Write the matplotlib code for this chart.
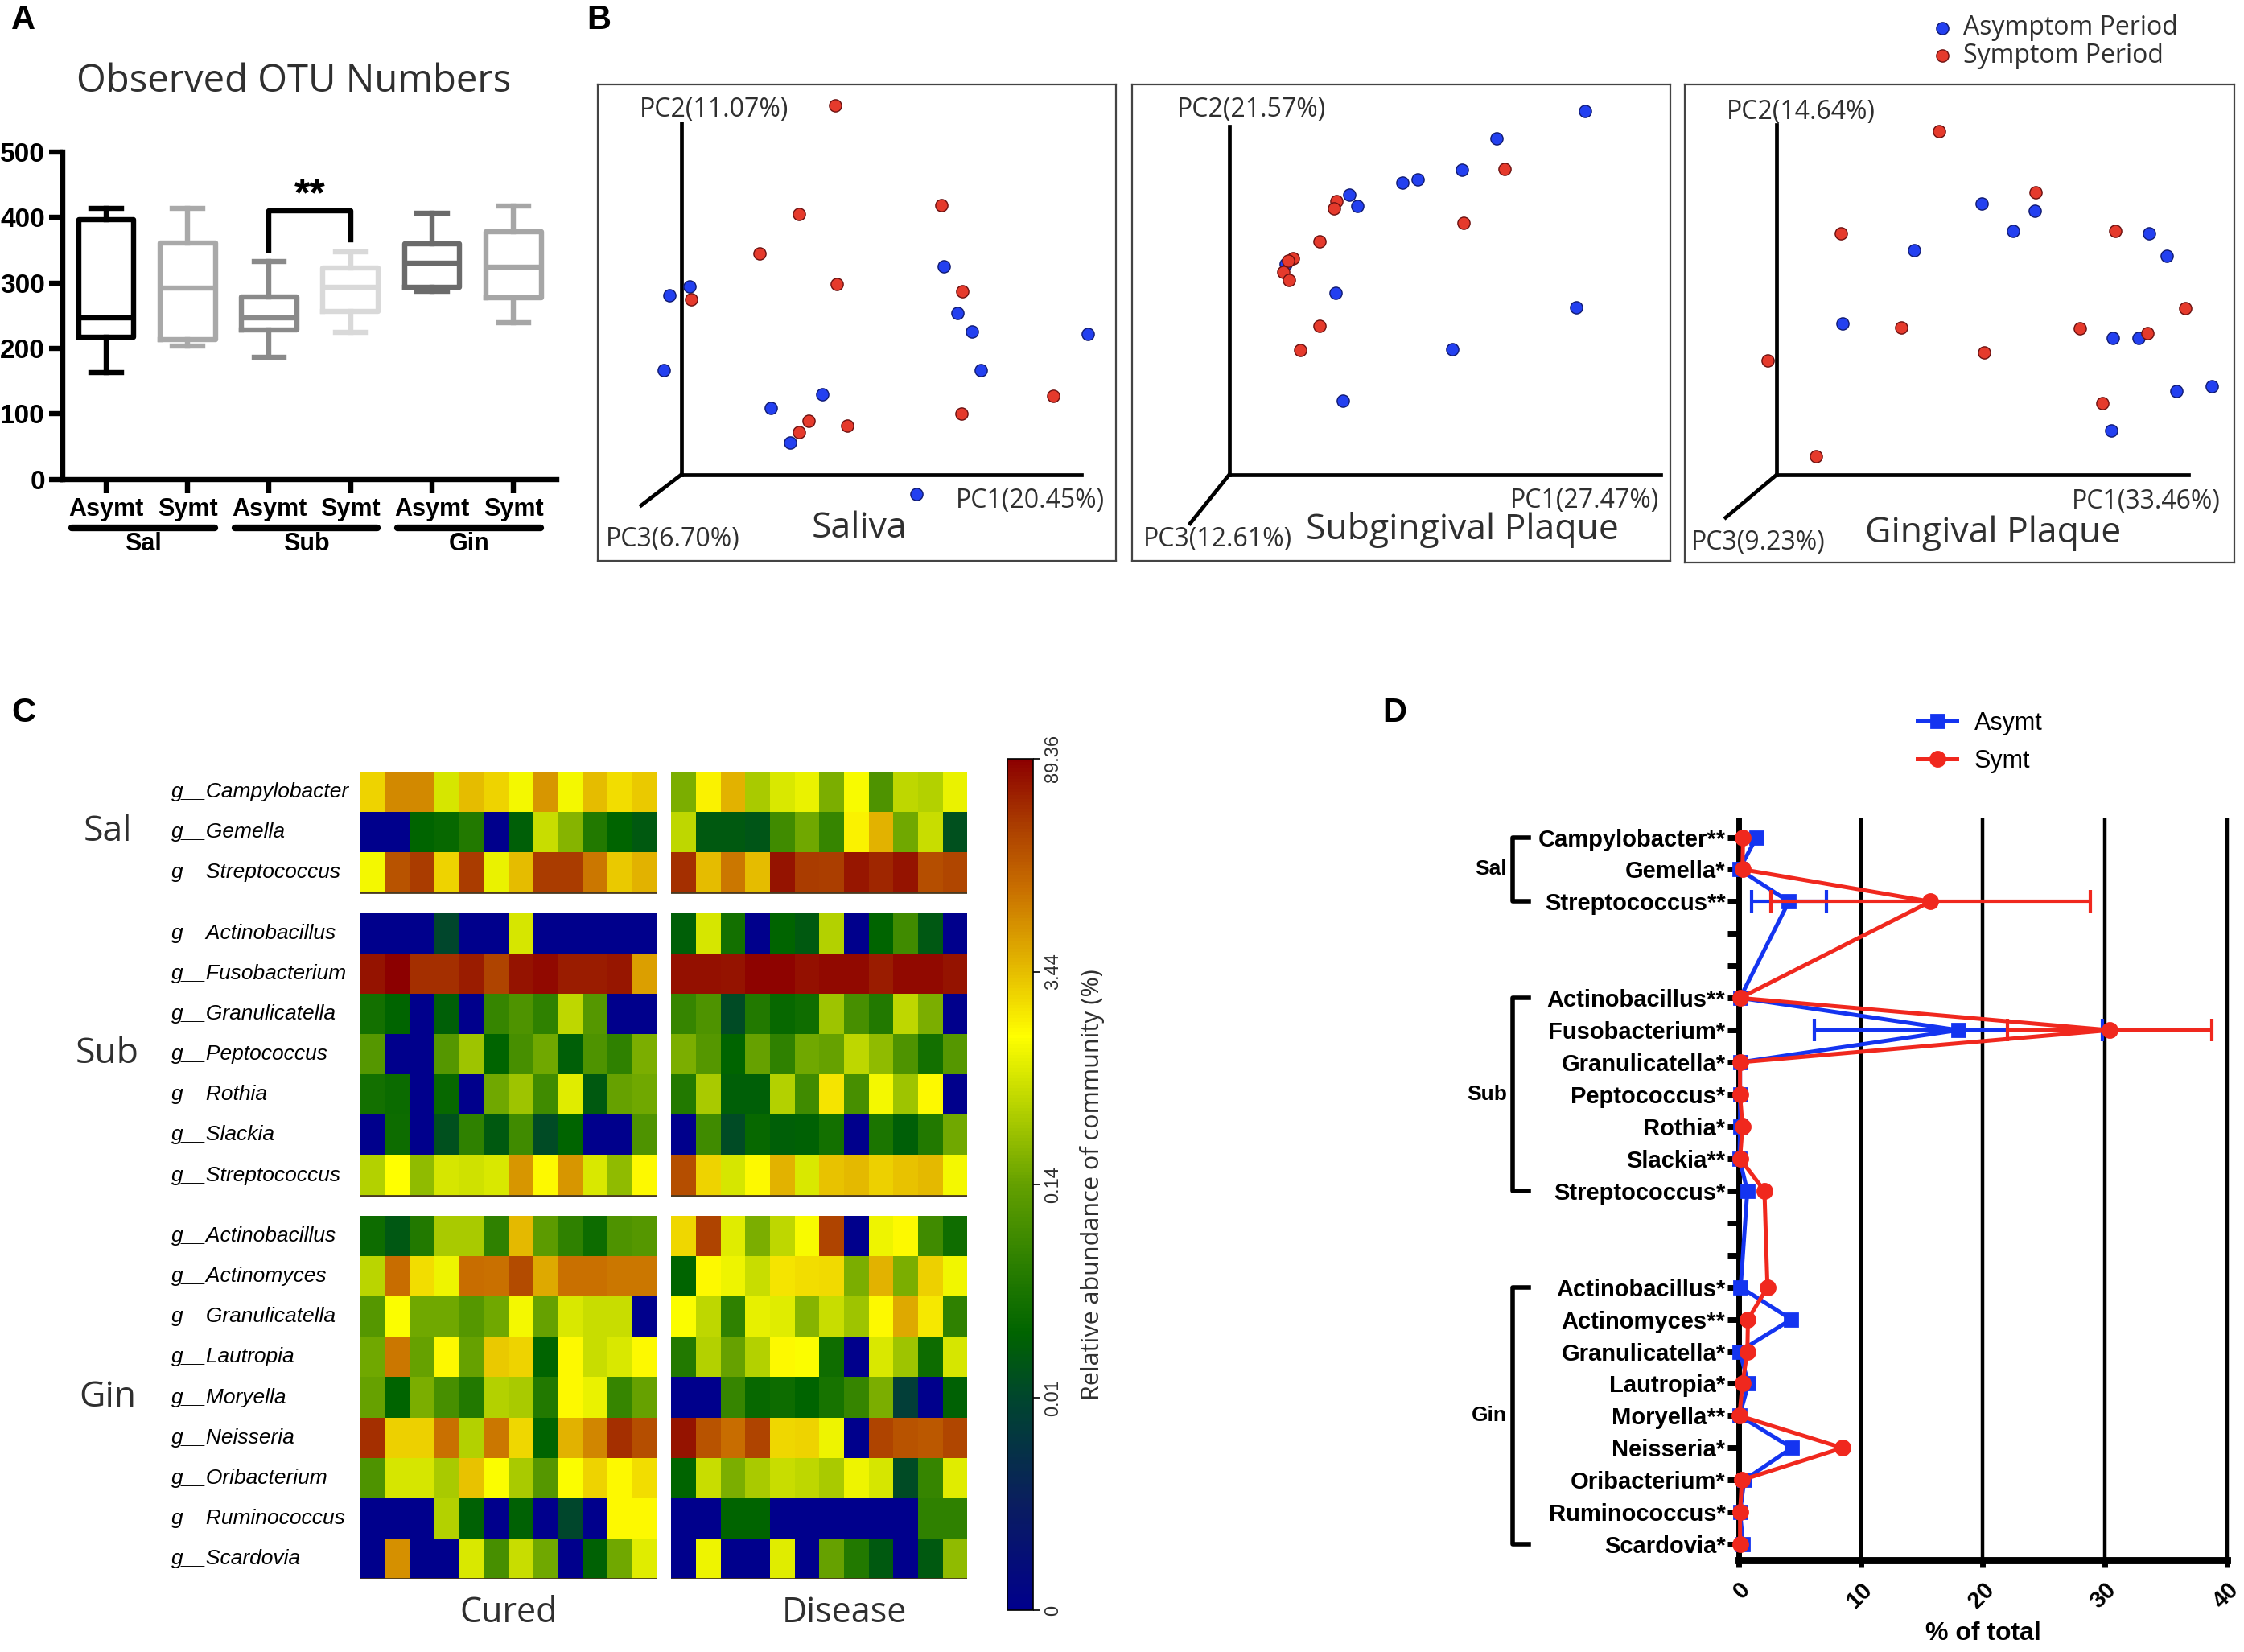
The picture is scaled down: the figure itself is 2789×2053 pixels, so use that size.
import numpy as np
import matplotlib
matplotlib.use("Agg")
import matplotlib.pyplot as plt
from matplotlib.colors import LinearSegmentedColormap
from matplotlib.transforms import blended_transform_factory

plt.rcParams['font.family'] = ['Liberation Sans', 'DejaVu Sans']

# reference layout is measured on a 1568 x 1154 grid
W, H = 1568.0, 1154.0
SOFT = 'Open Sans'
GREY_TXT = '#2f2f2f'

# === Panel A: observed OTU numbers (box stats) ===
otu_groups = ["Sal", "Sub", "Gin"]
otu_labels = ["Asymt", "Symt", "Asymt", "Symt", "Asymt", "Symt"]
otu_whislo = [163, 204, 186, 225, 287, 239]
otu_q1 = [217, 214, 228, 257, 293, 277]
otu_med = [247, 292, 247, 293, 330, 324]
otu_q3 = [396, 361, 279, 323, 359, 378]
otu_whishi = [413, 414, 332, 347, 406, 417]
otu_colors = ["#000000", "#a9a9a9", "#8a8a8a", "#d9d9d9", "#6b6b6b", "#a6a6a6"]

# === Panel B: PCoA points (fraction of each panel box) ===
sal_asym_x = [0.177, 0.138, 0.126, 0.667, 0.693, 0.722, 0.945, 0.739, 0.433, 0.333, 0.370, 0.615]
sal_asym_y = [0.576, 0.557, 0.401, 0.618, 0.520, 0.482, 0.477, 0.401, 0.350, 0.321, 0.249, 0.141]
sal_sym_x = [0.458, 0.662, 0.388, 0.311, 0.460, 0.702, 0.180, 0.406, 0.388, 0.480, 0.701, 0.878]
sal_sym_y = [0.956, 0.746, 0.728, 0.645, 0.582, 0.566, 0.549, 0.294, 0.270, 0.284, 0.310, 0.347]

sub_asym_x = [0.842, 0.677, 0.613, 0.531, 0.503, 0.404, 0.418, 0.286, 0.378, 0.825, 0.595, 0.392]
sub_asym_y = [0.945, 0.886, 0.821, 0.800, 0.794, 0.769, 0.745, 0.623, 0.562, 0.533, 0.445, 0.337]
sub_sym_x = [0.693, 0.616, 0.380, 0.376, 0.349, 0.299, 0.290, 0.281, 0.292, 0.349, 0.312]
sub_sym_y = [0.822, 0.710, 0.756, 0.740, 0.670, 0.635, 0.631, 0.606, 0.590, 0.493, 0.443]

gin_asym_x = [0.541, 0.638, 0.598, 0.418, 0.846, 0.877, 0.287, 0.779, 0.826, 0.895, 0.960, 0.777]
gin_asym_y = [0.751, 0.736, 0.694, 0.653, 0.689, 0.641, 0.500, 0.470, 0.470, 0.359, 0.369, 0.277]
gin_sym_x = [0.463, 0.639, 0.285, 0.784, 0.911, 0.394, 0.719, 0.842, 0.546, 0.152, 0.761, 0.239]
gin_sym_y = [0.902, 0.775, 0.688, 0.693, 0.532, 0.492, 0.490, 0.480, 0.440, 0.423, 0.333, 0.222]

# === Panel C: heatmap (position on colour scale, 0..4) ===
sal_genera = ["Campylobacter", "Gemella", "Streptococcus"]
sub_genera = ["Actinobacillus", "Fusobacterium", "Granulicatella", "Peptococcus",
              "Rothia", "Slackia", "Streptococcus"]
gin_genera = ["Actinobacillus", "Actinomyces", "Granulicatella", "Lautropia", "Moryella",
              "Neisseria", "Oribacterium", "Ruminococcus", "Scardovia"]
cbar_labels = ["0", "0.01", "0.14", "3.44", "89.36"]

cured_sal = [
    [2.9, 3.25, 3.25, 2.5, 3.0, 2.9, 2.65, 3.2, 2.65, 3.0, 2.85, 2.95],
    [0, 0, 1.3, 1.35, 1.55, 0, 1.25, 2.45, 2.15, 1.55, 1.3, 1.2],
    [2.65, 3.55, 3.7, 2.9, 3.7, 2.6, 3.0, 3.7, 3.7, 3.35, 2.95, 3.05],
]
disease_sal = [
    [2.1, 2.75, 3.05, 2.3, 2.52, 2.6, 2.1, 2.67, 1.85, 2.4, 2.35, 2.6],
    [2.4, 1.2, 1.2, 1.15, 1.75, 2.05, 1.7, 2.75, 3.05, 2.05, 2.45, 1.1],
    [3.75, 3.0, 3.35, 3.0, 3.9, 3.7, 3.68, 3.88, 3.8, 3.9, 3.58, 3.63],
]
cured_sub = [
    [0, 0, 0, 1.0, 0, 0, 2.5, 0, 0, 0, 0, 0],
    [3.9, 4.0, 3.75, 3.75, 3.85, 3.65, 3.9, 3.95, 3.85, 3.85, 3.88, 3.15],
    [1.45, 1.3, 0, 1.25, 0, 1.7, 1.85, 1.65, 2.4, 1.9, 0, 0],
    [1.9, 0, 0, 1.9, 2.25, 1.3, 1.8, 2.05, 1.25, 1.85, 1.65, 2.1],
    [1.45, 1.38, 0, 1.35, 0, 2.05, 2.25, 1.75, 2.55, 1.2, 2.0, 2.05],
    [0, 1.4, 0, 1.1, 1.65, 1.2, 1.75, 1.05, 1.3, 0, 0, 1.85],
    [2.35, 2.7, 2.2, 2.5, 2.48, 2.52, 3.2, 2.72, 3.2, 2.52, 2.2, 2.72],
]
disease_sub = [
    [1.25, 2.5, 1.45, 0, 1.3, 1.2, 2.35, 0, 1.3, 1.75, 1.18, 0],
    [3.92, 3.92, 3.9, 3.97, 3.97, 3.92, 3.95, 3.95, 3.85, 3.95, 3.95, 3.9],
    [1.7, 1.85, 1.05, 1.55, 1.35, 1.42, 2.25, 1.8, 1.55, 2.4, 2.1, 0],
    [2.1, 1.9, 1.3, 2.0, 1.65, 2.05, 2.0, 2.4, 2.2, 1.85, 1.45, 1.9],
    [1.55, 2.3, 1.25, 1.25, 2.35, 1.75, 2.82, 1.8, 2.65, 2.25, 2.72, 0],
    [0, 1.75, 1.05, 1.35, 1.25, 1.27, 1.45, 0, 1.5, 1.25, 1.55, 2.05],
    [3.58, 2.9, 2.5, 2.73, 3.05, 2.52, 2.97, 3.02, 2.92, 2.97, 3.02, 2.65],
]
cured_gin = [
    [1.4, 1.18, 1.55, 2.3, 2.3, 1.65, 3.02, 1.95, 1.65, 1.4, 1.85, 1.9],
    [2.38, 3.4, 2.85, 2.62, 3.4, 3.38, 3.6, 3.1, 3.38, 3.38, 3.35, 3.35],
    [1.9, 2.68, 2.05, 2.05, 1.9, 2.05, 2.65, 2.0, 2.52, 2.45, 2.45, 0],
    [2.05, 3.35, 2.0, 2.73, 2.0, 2.95, 2.9, 1.3, 2.72, 2.45, 2.52, 2.72],
    [2.0, 1.3, 2.1, 1.8, 1.55, 2.35, 2.3, 1.55, 2.72, 2.6, 1.7, 2.0],
    [3.75, 2.92, 2.92, 3.38, 2.35, 3.35, 2.88, 1.3, 3.05, 3.28, 3.75, 3.58],
    [1.85, 2.5, 2.5, 2.3, 2.97, 2.68, 2.3, 1.9, 2.68, 2.9, 2.73, 2.85],
    [0, 0, 0, 2.35, 1.27, 0, 1.27, 0, 1.0, 0, 2.72, 2.72],
    [0, 3.22, 0, 0, 2.52, 1.8, 2.45, 2.05, 0, 1.27, 2.05, 2.55],
]
disease_gin = [
    [2.88, 3.65, 2.55, 2.1, 2.4, 2.67, 3.65, 0, 2.62, 2.72, 1.75, 1.42],
    [1.3, 2.73, 2.62, 2.45, 2.82, 2.85, 2.87, 2.1, 3.05, 2.1, 2.92, 2.64],
    [2.68, 2.4, 1.65, 2.58, 2.55, 2.15, 2.45, 2.25, 2.73, 3.1, 2.8, 1.65],
    [1.55, 2.35, 2.0, 2.35, 2.73, 2.68, 1.42, 0, 2.52, 2.25, 1.4, 2.5],
    [0, 0, 1.7, 1.35, 1.4, 1.3, 1.48, 1.7, 2.1, 0.9, 0, 1.27],
    [3.9, 3.55, 3.4, 3.65, 2.88, 2.9, 2.62, 0, 3.65, 3.55, 3.52, 3.63],
    [1.3, 2.45, 2.1, 2.3, 2.45, 2.4, 2.3, 2.62, 2.5, 1.05, 1.7, 2.55],
    [0, 0, 1.3, 1.3, 0, 0, 0, 0, 0, 0, 1.65, 1.65],
    [0, 2.62, 0, 0, 2.55, 0, 2.0, 1.55, 1.2, 0, 1.2, 2.2],
]

# === Panel D: % of total (empty strings are spacer rows) ===
d_labels = ["Campylobacter**", "Gemella*", "Streptococcus**", "", "",
            "Actinobacillus**", "Fusobacterium*", "Granulicatella*", "Peptococcus*",
            "Rothia*", "Slackia**", "Streptococcus*", "", "",
            "Actinobacillus*", "Actinomyces**", "Granulicatella*", "Lautropia*",
            "Moryella**", "Neisseria*", "Oribacterium*", "Ruminococcus*", "Scardovia*"]
nan = np.nan
asymt_pct = [1.45, 0.05, 4.1, nan, nan, 0.1, 18.0, 0.1, 0.1, 0.1, 0.05, 0.7, nan, nan,
             0.15, 4.3, 0.05, 0.8, 0.05, 4.35, 0.45, 0.1, 0.35]
symt_pct = [0.35, 0.3, 15.7, nan, nan, 0.1, 30.4, 0.1, 0.1, 0.3, 0.1, 2.1, nan, nan,
            2.35, 0.75, 0.7, 0.3, 0.05, 8.5, 0.25, 0.1, 0.1]
asymt_err = [0, 0, 3.05, 0, 0, 0, 11.8, 0, 0, 0, 0, 0, 0, 0, 0, 0, 0, 0, 0, 0, 0, 0, 0]
symt_err = [0, 0, 13.1, 0, 0, 0, 8.4, 0, 0, 0, 0, 0, 0, 0, 0, 0, 0, 0, 0, 0, 0, 0, 0]
d_brackets = [("Sal", 0, 2), ("Sub", 5, 11), ("Gin", 14, 22)]


def add_ax(x0, y0, x1, y1):
    return fig.add_axes([x0 / W, 1 - y1 / H, (x1 - x0) / W, (y1 - y0) / H])


fig = plt.figure(figsize=(2789 / 200, 2053 / 200), dpi=200)

for letter, (lx, ly) in zip("ABCD", [(8, 14), (410, 14), (8, 498), (966, 498)]):
    fig.text(lx / W, 1 - ly / H, letter, fontsize=15, fontweight='bold', va='center')

# ---------- A ----------
axA = add_ax(44, 106, 389, 335)
pos = np.arange(1, 7)
for i in range(6):
    st = [dict(whislo=otu_whislo[i], q1=otu_q1[i], med=otu_med[i], q3=otu_q3[i],
               whishi=otu_whishi[i], fliers=[])]
    c = otu_colors[i]
    kw = dict(color=c, lw=2.3)
    axA.bxp(st, positions=[pos[i]], widths=0.68, capwidths=0.37, showfliers=False,
            boxprops=kw, medianprops=kw, whiskerprops=kw, capprops=kw)
axA.set_xlim(0.47, 6.53)
axA.set_ylim(0, 500)
axA.set_yticks(range(0, 501, 100))
axA.set_xticks(pos)
axA.set_xticklabels(otu_labels, fontsize=11, fontweight='bold')
for t in axA.get_yticklabels():
    t.set_fontweight('bold')
    t.set_fontsize(12)
for sp in ['top', 'right']:
    axA.spines[sp].set_visible(False)
for sp in ['left', 'bottom']:
    axA.spines[sp].set_linewidth(2.3)
axA.tick_params(width=2.3, length=6, pad=2)
# significance bracket between Sub groups
axA.plot([3, 3, 4, 4], [350, 410, 410, 366], color='k', lw=2.3)
axA.text(3.5, 405, "**", ha='center', va='bottom', fontsize=18, fontweight='bold')
trA = blended_transform_factory(axA.transData, axA.transAxes)
for k, name in enumerate(otu_groups):
    x0, x1 = 2 * k + 0.58, 2 * k + 2.33
    axA.plot([x0, x1], [-0.148, -0.148], transform=trA, clip_on=False, lw=3,
             color='k', solid_capstyle='round')
    axA.text((x0 + x1) / 2, -0.197, name, transform=trA, ha='center', va='center',
             fontsize=11, fontweight='bold')
fig.text(205 / W, 1 - 57 / H, "Observed OTU Numbers", ha='center', va='center',
         fontsize=17, family=SOFT, color=GREY_TXT)

# ---------- B ----------
BLUE_PT, RED_PT = '#2340f0', '#e53a2c'
pcoa = [
    dict(box=(418, 59, 780, 392), bx=sal_asym_x, by=sal_asym_y, rx=sal_sym_x, ry=sal_sym_y,
         o=(0.161, 0.182), top=0.919, right=0.933, diag=(0.083, 0.117),
         pc=("PC2(11.07%)", "PC1(20.45%)", "PC3(6.70%)"),
         pcpos=((0.080, 0.946), (0.978, 0.127), (0.014, 0.045)),
         title="Saliva", tpos=(0.504, 0.069)),
    dict(box=(791, 59, 1167, 392), bx=sub_asym_x, by=sub_asym_y, rx=sub_sym_x, ry=sub_sym_y,
         o=(0.181, 0.182), top=0.912, right=0.982, diag=(0.108, 0.079),
         pc=("PC2(21.57%)", "PC1(27.47%)", "PC3(12.61%)"),
         pcpos=((0.083, 0.946), (0.979, 0.127), (0.021, 0.045)),
         title="Subgingival Plaque", tpos=(0.614, 0.066)),
    dict(box=(1177, 59, 1561, 393), bx=gin_asym_x, by=gin_asym_y, rx=gin_sym_x, ry=gin_sym_y,
         o=(0.167, 0.183), top=0.915, right=0.917, diag=(0.075, 0.094),
         pc=("PC2(14.64%)", "PC1(33.46%)", "PC3(9.23%)"),
         pcpos=((0.077, 0.942), (0.975, 0.127), (0.012, 0.042)),
         title="Gingival Plaque", tpos=(0.561, 0.062)),
]
for p in pcoa:
    ax = add_ax(*p['box'])
    ax.set_xlim(0, 1)
    ax.set_ylim(0, 1)
    ax.set_xticks([])
    ax.set_yticks([])
    for sp in ax.spines.values():
        sp.set_linewidth(0.8)
        sp.set_color('#444444')
    ox, oy = p['o']
    ax.plot([ox, ox], [oy, p['top']], color='k', lw=1.7)
    ax.plot([ox, p['right']], [oy, oy], color='k', lw=1.7)
    ax.plot([ox, p['diag'][0]], [oy, p['diag'][1]], color='k', lw=1.7)
    sa = ax.scatter(p['bx'], p['by'], s=30, color=BLUE_PT, edgecolor='#101a70', lw=0.5,
                    zorder=3, label="Asymptom Period")
    sb = ax.scatter(p['rx'], p['ry'], s=30, color=RED_PT, edgecolor='#6a1010', lw=0.5,
                    zorder=4, label="Symptom Period")
    (x2, y2), (x1, y1), (x3, y3) = p['pcpos']
    ax.text(x2, y2, p['pc'][0], ha='left', va='center', fontsize=11.5, family=SOFT, color=GREY_TXT)
    ax.text(x1, y1, p['pc'][1], ha='right', va='center', fontsize=11.5, family=SOFT, color=GREY_TXT)
    ax.text(x3, y3, p['pc'][2], ha='left', va='center', fontsize=11.5, family=SOFT, color=GREY_TXT)
    ax.text(p['tpos'][0], p['tpos'][1], p['title'], ha='center', va='center', fontsize=16,
            family=SOFT, color=GREY_TXT)
fig.legend(handles=[sa, sb], loc='upper left', bbox_to_anchor=(1341 / W, 1 - 3 / H),
           frameon=False, handletextpad=0.3, labelspacing=0.05, borderaxespad=0,
           handlelength=1.0, prop=dict(family=SOFT, size=11.5), labelcolor=GREY_TXT)

# ---------- C ----------
cmap_nodes = [(0.0, '#00008c'), (0.5, '#0a1e5f'), (1.0, '#00462d'), (1.3, '#006400'),
              (1.6, '#287d00'), (2.0, '#64a000'), (2.4, '#bed700'), (2.7, '#ffff00'),
              (3.0, '#e6be00'), (3.4, '#c86e00'), (3.7, '#aa3c00'), (4.0, '#8c0000')]
cmap = LinearSegmentedColormap.from_list('abund', [(v / 4.0, c) for v, c in cmap_nodes])

blocks = [(sal_genera, 0.0, cured_sal, disease_sal, "Sal"),
          (sub_genera, 3.5, cured_sub, disease_sub, "Sub"),
          (gin_genera, 11.0, cured_gin, disease_gin, "Gin")]
heat_axes = [add_ax(252, 539, 459, 1103), add_ax(469, 539, 676, 1103)]
for j, (ax, cond, cx) in enumerate(zip(heat_axes, ["Cured", "Disease"], [0.5, 0.585])):
    for genera, off, cured, disease, gname in blocks:
        data = np.array(cured if j == 0 else disease)
        mesh = ax.pcolormesh(np.arange(13), off + np.arange(len(genera) + 1), data,
                             cmap=cmap, vmin=0, vmax=4)
        ax.plot([0, 12], [off + len(genera)] * 2, color='#4a3a20', lw=1.0)
    ax.set_xlim(0, 12)
    ax.set_ylim(20, 0)
    ax.axis('off')
    ax.text(cx, -0.02, cond, transform=ax.transAxes, ha='center', va='top',
            fontsize=15.5, family=SOFT, color=GREY_TXT)
trC = blended_transform_factory(fig.transFigure, heat_axes[0].transData)
for genera, off, cured, disease, gname in blocks:
    for r, g in enumerate(genera):
        fig.text(120 / W, off + r + 0.5, "g__" + g, transform=trC, ha='left', va='center',
                 fontsize=9.5, style='italic')
    fig.text(75 / W, off + len(genera) / 2.0, gname, transform=trC, ha='center',
             va='center', fontsize=16, family=SOFT, color=GREY_TXT)
cax = add_ax(704, 530, 722, 1125)
cb = fig.colorbar(mesh, cax=cax, ticks=[0, 1, 2, 3, 4])
cb.set_ticklabels(cbar_labels)
cb.outline.set_linewidth(0.6)
cax.tick_params(labelsize=8.5, length=3, width=0.6, pad=2)
for t in cax.get_yticklabels():
    t.set_rotation(90)
    t.set_va('center')
    t.set_color(GREY_TXT)
cb.set_label("Relative abundance of community (%)", family=SOFT, size=11,
             color=GREY_TXT, labelpad=8)

# ---------- D ----------
axD = add_ax(1215, 573, 1556, 1090)
ypos = np.arange(len(d_labels))
a = np.array(asymt_pct)
s = np.array(symt_pct)
ma, ms_ = ~np.isnan(a), ~np.isnan(s)
ea, es = np.array(asymt_err), np.array(symt_err)
BLUE_L, RED_L = '#1434f0', '#f0281e'
la, = axD.plot(a[ma], ypos[ma], color=BLUE_L, lw=1.8, marker='s', ms=6, zorder=4,
               clip_on=False, label="Asymt")
ls, = axD.plot(s[ms_], ypos[ms_], color=RED_L, lw=1.8, marker='o', ms=6.5, zorder=5,
               clip_on=False, label="Symt")
ka, ks = ea > 0, es > 0
axD.errorbar(a[ka], ypos[ka], xerr=ea[ka], fmt='none', ecolor=BLUE_L, elinewidth=1.5,
             capsize=5, capthick=1.5, zorder=4)
axD.errorbar(s[ks], ypos[ks], xerr=es[ks], fmt='none', ecolor=RED_L, elinewidth=1.5,
             capsize=5, capthick=1.5, zorder=5)
axD.set_xlim(0, 40)
axD.set_ylim(22.5, -0.53)
for gx in [10, 20, 30, 40]:
    axD.axvline(gx, color='k', lw=1.6, zorder=1, clip_on=False)
axD.set_yticks(ypos)
axD.set_yticklabels(d_labels, fontsize=10.5, fontweight='bold')
axD.set_xticks([0, 10, 20, 30, 40])
axD.set_xticklabels(["0", "10", "20", "30", "40"], fontsize=10.5, fontweight='bold',
                    rotation=45, ha='right', va='top', rotation_mode='anchor')
axD.tick_params(axis='y', length=5, width=2.5, pad=1)
axD.tick_params(axis='x', length=3, width=2.5, pad=5)
for sp in ['top', 'right']:
    axD.spines[sp].set_visible(False)
axD.spines['left'].set_linewidth(2.5)
axD.spines['bottom'].set_linewidth(3.2)
axD.text(0.5, -0.099, "% of total", transform=axD.transAxes, ha='center', va='center',
         fontsize=11.5, fontweight='bold')
trD = blended_transform_factory(axD.transAxes, axD.transData)
xv, xh = -0.463, -0.431
for name, y0, y1 in d_brackets:
    axD.plot([xh, xv, xv, xh], [y0, y0, y1, y1], transform=trD, clip_on=False,
             color='k', lw=2)
    axD.text(xv - 0.012, (y0 + y1) / 2.0, name, transform=trD, ha='right', va='center',
             fontsize=9.5, fontweight='bold')
fig.legend(handles=[la, ls], loc='upper left', bbox_to_anchor=(1333 / W, 1 - 490 / H),
           frameon=False, fontsize=11, handlelength=1.6, labelspacing=0.55,
           borderaxespad=0, handletextpad=0.7)

fig.savefig("out.png", dpi=200)
